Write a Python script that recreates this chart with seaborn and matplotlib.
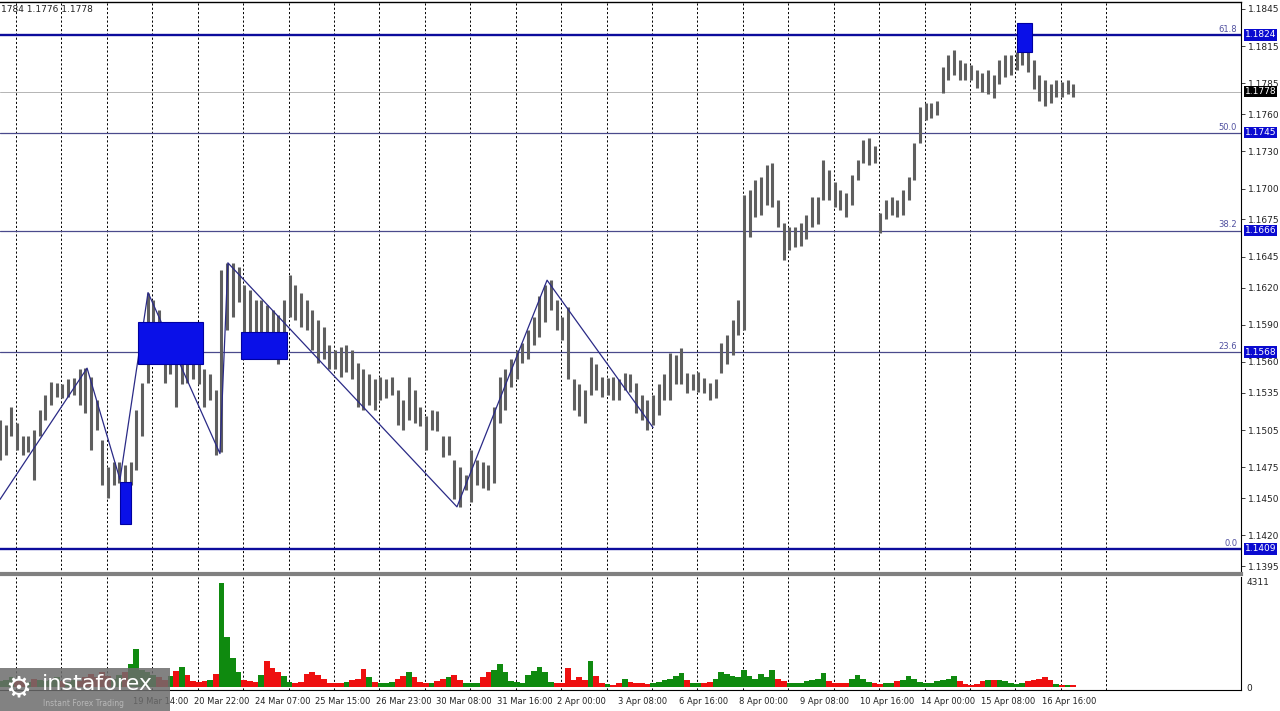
import numpy as np
import pandas as pd
import matplotlib
matplotlib.use("Agg")
import matplotlib.pyplot as plt
import seaborn as sns
from matplotlib.patches import Rectangle

# EURUSD, one bar every 3 hours. Prices are pips above 1.1000 (513 -> 1.1513)
bar_high = [513, 509, 524, 511, 500, 500, 505, 521, 533, 544,
            543, 542, 546, 547, 554, 555, 548, 529, 497, 475,
            479, 479, 477, 479, 521, 543, 616, 610, 602, 583,
            582, 580, 574, 570, 566, 562, 554, 550, 537, 634,
            640, 640, 637, 622, 618, 610, 610, 606, 602, 598,
            610, 630, 622, 616, 610, 602, 594, 588, 574, 570,
            572, 574, 570, 559, 554, 550, 546, 548, 546, 548,
            537, 529, 548, 537, 524, 516, 521, 520, 500, 500,
            481, 475, 469, 489, 481, 479, 477, 524, 548, 554,
            562, 570, 575, 586, 596, 613, 622, 626, 610, 596,
            604, 546, 542, 537, 564, 558, 548, 547, 548, 546,
            551, 550, 543, 533, 529, 533, 542, 550, 567, 566,
            571, 551, 550, 552, 547, 543, 546, 575, 582, 594,
            610, 695, 699, 707, 709, 719, 721, 691, 672, 669,
            669, 672, 679, 693, 693, 723, 715, 705, 699, 696,
            711, 723, 739, 741, 734, 680, 691, 693, 691, 699,
            709, 737, 766, 769, 769, 771, 798, 808, 812, 804,
            801, 800, 796, 793, 796, 792, 804, 808, 808, 810,
            816, 812, 804, 792, 788, 784, 788, 786, 788, 784]
bar_low = [481, 485, 500, 489, 485, 487, 465, 500, 513, 525,
           532, 531, 532, 533, 525, 519, 489, 505, 461, 450,
           461, 462, 462, 461, 473, 500, 543, 570, 574, 543,
           550, 524, 542, 543, 546, 542, 524, 529, 485, 487,
           586, 596, 608, 582, 580, 575, 578, 574, 562, 558,
           570, 596, 594, 588, 586, 570, 559, 562, 554, 554,
           548, 552, 546, 524, 521, 525, 521, 529, 531, 533,
           509, 505, 513, 511, 508, 489, 505, 504, 483, 485,
           449, 443, 457, 447, 461, 458, 457, 462, 511, 521,
           540, 546, 559, 562, 574, 580, 592, 602, 586, 578,
           546, 521, 516, 511, 533, 537, 532, 533, 529, 529,
           537, 536, 519, 513, 505, 509, 517, 529, 529, 542,
           542, 535, 537, 536, 535, 529, 531, 551, 558, 566,
           582, 586, 661, 677, 679, 687, 685, 669, 642, 650,
           653, 654, 659, 669, 671, 691, 691, 685, 683, 677,
           687, 707, 721, 719, 721, 664, 675, 679, 677, 679,
           691, 707, 737, 755, 757, 759, 777, 788, 792, 788,
           788, 788, 781, 778, 776, 773, 784, 790, 792, 796,
           800, 794, 780, 771, 767, 769, 774, 774, 776, 774]
bar_volume = [250, 300, 400, 250, 300, 200, 350, 300, 250, 300,
              400, 250, 200, 300, 250, 400, 550, 400, 600, 450,
              350, 500, 600, 950, 1545, 700, 600, 500, 400, 300,
              450, 650, 820, 500, 250, 200, 250, 300, 550, 4250,
              2050, 1200, 600, 300, 250, 200, 500, 1050, 800, 600,
              450, 200, 150, 200, 550, 620, 500, 350, 150, 150,
              150, 200, 300, 350, 750, 400, 200, 150, 150, 200,
              350, 450, 620, 400, 200, 150, 150, 250, 350, 400,
              480, 300, 150, 150, 150, 400, 600, 700, 950, 600,
              250, 200, 150, 500, 650, 820, 600, 200, 150, 150,
              800, 300, 400, 300, 1080, 450, 150, 120, 100, 150,
              350, 200, 150, 150, 120, 150, 200, 300, 350, 450,
              580, 300, 150, 150, 150, 200, 350, 620, 550, 450,
              400, 690, 450, 350, 550, 400, 690, 350, 250, 150,
              150, 150, 250, 300, 350, 580, 250, 150, 150, 150,
              350, 480, 350, 200, 150, 120, 150, 150, 250, 300,
              450, 350, 200, 150, 150, 250, 300, 350, 450, 250,
              120, 100, 120, 250, 300, 300, 300, 250, 150, 120,
              150, 250, 300, 350, 420, 300, 120, 100, 100, 100]

# Fibonacci grid
fib_labels = ["0.0", "23.6", "38.2", "50.0", "61.8"]
fib_prices = [1.1409, 1.1568, 1.1666, 1.1745, 1.1824]
last_price = 1.1778

# zigzag swing points (hours from first bar, pips)
zigzag_hours = [0, 46, 63.4, 78.2, 116.2, 120.4, 241.4, 289, 345]
zigzag_pips = [449, 555, 465, 616, 486, 640, 443, 626, 507]

# blue zones (hours, pips)
zone_start = [63.4, 72.9, 127.3, 537.2]
zone_end = [69.2, 107.2, 151.6, 545.2]
zone_top = [463, 592, 584, 834]
zone_bottom = [429, 558, 562, 810]

price_ticks = [1.1845, 1.1815, 1.1785, 1.1760, 1.1730, 1.1700, 1.1675, 1.1645,
               1.1620, 1.1590, 1.1560, 1.1535, 1.1505, 1.1475, 1.1450, 1.1420, 1.1395]
time_labels = ["19 Mar 14:00", "20 Mar 22:00",
               "24 Mar 07:00", "25 Mar 15:00", "26 Mar 23:00", "30 Mar 08:00",
               "31 Mar 16:00", "2 Apr 00:00", "3 Apr 08:00", "6 Apr 16:00",
               "8 Apr 00:00", "9 Apr 08:00", "10 Apr 16:00", "14 Apr 00:00",
               "15 Apr 08:00", "16 Apr 16:00"]
header = "1784 1.1776 1.1778"
volume_max = 4311


def pips(v):
    return 1.1 + np.asarray(v, dtype=float) / 10000


df = pd.DataFrame({
    "hour": 3 * np.arange(len(bar_high)),
    "high": pips(bar_high),
    "low": pips(bar_low),
    "volume": bar_volume,
})
mid = (df["high"] + df["low"]) / 2
df["up"] = mid.diff().fillna(0) >= 0

sns.set_theme(style="white")
plt.rcParams["font.family"] = ["DejaVu Sans"]

fig = plt.figure(figsize=(12.8, 7.11), dpi=100)
ax = fig.add_axes([0, 0.1927, 0.9695, 0.8045])
axv = fig.add_axes([0, 0.0295, 0.9695, 0.159], sharex=ax)

x_max = 1241 / 1.893
ax.set_xlim(0, x_max)
ax.set_ylim(1.13888, 1.18506)

# vertical dotted grid every 24 hours
for h in 8.45 + 24 * np.arange(25):
    for a in (ax, axv):
        a.axvline(h, color="black", lw=0.7, ls=(0, (2.2, 2.2)), zorder=1)

# price bars
ax.vlines(df["hour"], df["low"], df["high"], color="#5f5f5f", lw=2.2, zorder=3)

# fib lines
for lab, p in zip(fib_labels, fib_prices):
    thick = lab in ("0.0", "61.8")
    ax.axhline(p, color="#0c0c9c" if thick else "#4a4a8c", lw=1.7 if thick else 0.9, zorder=2)
    ax.text(0.997, p + 0.0001, lab, transform=ax.get_yaxis_transform(), ha="right",
            va="bottom", fontsize=6, color="#5050a0")
    ax.text(1.003, p, f"{p:.4f}", transform=ax.get_yaxis_transform(), ha="left",
            va="center", fontsize=6.5, color="white", zorder=6, clip_on=False,
            bbox=dict(boxstyle="square,pad=0.12", fc="#0a0ad0", ec="none"))
ax.axhline(last_price, color="#b4b4b4", lw=0.7, zorder=2)
ax.text(1.003, last_price, f"{last_price:.4f}", transform=ax.get_yaxis_transform(),
        ha="left", va="center", fontsize=6.5, color="white", zorder=6, clip_on=False,
        bbox=dict(boxstyle="square,pad=0.12", fc="black", ec="none"))

# zigzag
sns.lineplot(x=zigzag_hours, y=pips(zigzag_pips), ax=ax, color="#2a2a86", lw=0.9,
             estimator=None, sort=False, zorder=4)

# zones
for s, e, t, b in zip(zone_start, zone_end, pips(zone_top), pips(zone_bottom)):
    ax.add_patch(Rectangle((s, b), e - s, t - b, fc="#0a10e8", ec="#0000a0", lw=0.8, zorder=5))

ax.yaxis.tick_right()
ax.set_yticks(price_ticks)
ax.set_yticklabels([f"{t:.4f}" for t in price_ticks])
ax.tick_params(axis="y", length=3, width=0.6, labelsize=6.5, pad=2, colors="#222222")
ax.tick_params(axis="x", bottom=False, labelbottom=False)
ax.spines["left"].set_visible(False)
ax.spines["top"].set_linewidth(1.0)
ax.spines["right"].set_linewidth(0.8)
ax.spines["bottom"].set_color("#808080")
ax.spines["bottom"].set_linewidth(3)
for sp in ("top", "right"):
    ax.spines[sp].set_color("black")
ax.set_xlabel("")
ax.set_ylabel("")

# volume
colors = np.where(df["up"], "#0f8a0f", "#ee1010")
axv.bar(df["hour"], df["volume"], width=3, color=colors, lw=0, zorder=3)
axv.set_ylim(-119, 4509)
axv.yaxis.tick_right()
axv.set_yticks([0, volume_max])
axv.set_yticklabels(["0", str(volume_max)])
axv.tick_params(axis="y", length=0, labelsize=6.5, pad=4, colors="#222222")
label_hours = 102.5 + 32 * np.arange(-1, len(time_labels) - 1)
axv.set_xticks(label_hours)
axv.set_xticklabels(time_labels, ha="left")
axv.tick_params(axis="x", length=3, width=0.6, labelsize=6, pad=2, colors="#222222")
axv.spines["left"].set_visible(False)
axv.spines["top"].set_visible(False)
axv.spines["right"].set_color("black")
axv.spines["bottom"].set_color("black")
axv.spines["right"].set_linewidth(0.8)
axv.spines["bottom"].set_linewidth(0.8)

fig.text(0.001, 1 - 10 / 711, header, fontsize=6.5, va="center", color="#222222")

# watermark
fig.patches.append(Rectangle((0, 0), 170 / 1280, 43 / 711, transform=fig.transFigure,
                             fc="#6c6c6c", ec="none", alpha=0.85, zorder=5))
fig.text(5 / 1280, 1 - 688 / 711, "\u2699", fontsize=21, color="white", va="center",
         zorder=6)
fig.text(42 / 1280, 1 - 684 / 711, "instaforex", fontsize=16, color="white",
         va="center", zorder=6)
fig.text(43 / 1280, 1 - 704 / 711, "Instant Forex Trading", fontsize=5.5,
         color="#b8b8b8", va="center", zorder=6)

fig.savefig("out.png", dpi=100)
